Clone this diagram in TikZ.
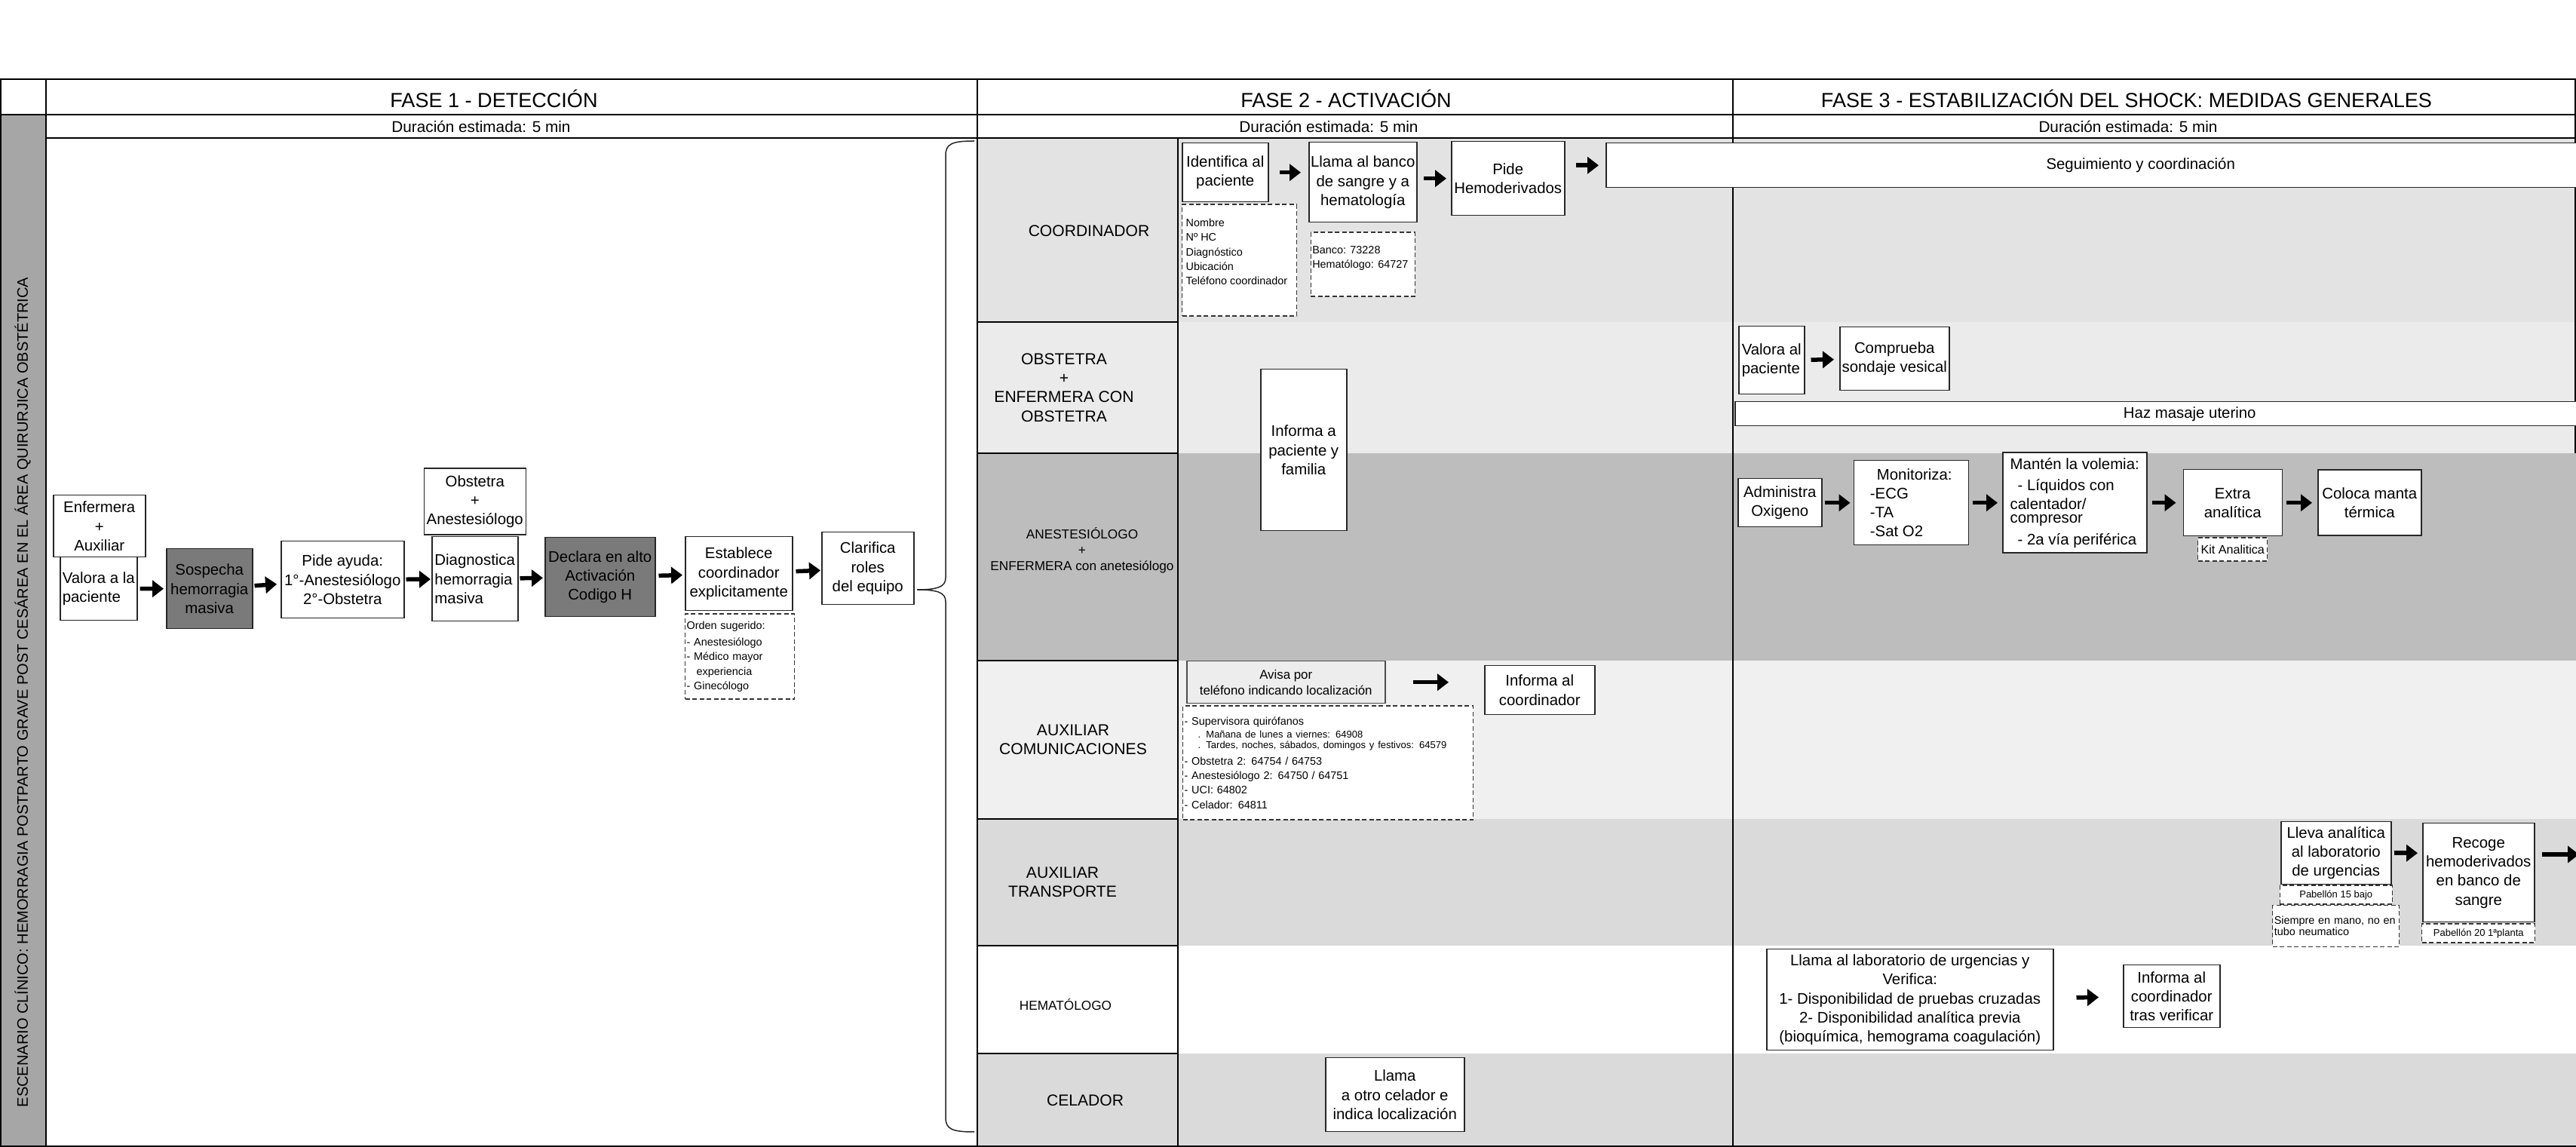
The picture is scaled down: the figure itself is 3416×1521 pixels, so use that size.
\documentclass[tikz,border=0pt]{standalone}
\usepackage{fontspec}
\setmainfont{Liberation Sans}
\usetikzlibrary{arrows.meta, positioning}
\definecolor{LaneCoord}{HTML}{E3E3E3}
\definecolor{LaneObst}{HTML}{EBEBEB}
\definecolor{LaneAnes}{HTML}{BDBDBD}
\definecolor{LaneCom}{HTML}{F0F0F0}
\definecolor{LaneTrans}{HTML}{DADADA}
\definecolor{SideGray}{HTML}{A6A6A6}
\definecolor{AlertGray}{HTML}{7A7A7A}
\definecolor{CallGray}{HTML}{EDEDED}
\newcommand{\fsBox}{\fontsize{5.8}{7.2}\selectfont}
\newcommand{\fsNote}{\fontsize{4.1}{5.5}\selectfont}
\newcommand{\fsTiny}{\fontsize{3.7}{4.6}\selectfont}
\newcommand{\fsPhase}{\fontsize{7.7}{9}\selectfont}
\newcommand{\fsDur}{\fontsize{5.9}{7}\selectfont}
\newcommand{\fsLane}{\fontsize{6}{7.2}\selectfont}
\newcommand{\fsLaneSm}{\fontsize{4.9}{6}\selectfont}
\tikzset{
  box/.style={draw=black!85, line width=0.15mm, fill=white, align=center,
    inner xsep=0.2mm, inner ysep=0.4mm, font=\fsBox},
  alertbox/.style={box, fill=AlertGray},
  callbox/.style={box, fill=CallGray, draw=black!70, font=\fontsize{4.8}{6}\selectfont},
  notebox/.style={draw=black!80, line width=0.12mm, dash pattern=on 0.6mm off 0.35mm,
    fill=white, align=left, inner xsep=0.2mm, inner ysep=0.4mm, font=\fsNote},
  lanelbl/.style={align=center, font=\fsLane},
  flow/.style={-{Triangle[length=1.5mm, width=2.2mm]}, line width=0.55mm,
    shorten <=0.4mm, shorten >=0.4mm},
  gridline/.style={line width=0.25mm, draw=black},
  gridthin/.style={line width=0.12mm, draw=black},
  bracestyle/.style={line width=0.15mm, draw=black!85},
}
\begin{document}
\begin{tikzpicture}[x=0.1mm, y=-0.1mm]
  \useasboundingbox (0,0) rectangle (3416,1521);
  \fill[white] (0,0) rectangle (3416,1521);
  % lanes
  \fill[LaneCoord] (1296,183) rectangle (3416,427);
  \fill[LaneObst] (1296,427) rectangle (3416,601);
  \fill[LaneAnes] (1296,601) rectangle (3416,876);
  \fill[LaneCom] (1296,876) rectangle (3416,1086);
  \fill[LaneTrans] (1296,1086) rectangle (3416,1254);
  \fill[white] (1296,1254) rectangle (3416,1397);
  \fill[LaneTrans] (1296,1397) rectangle (3416,1521);
  \fill[SideGray] (0,152) rectangle (61,1521);
  % grid
  \draw[gridline] (0,105) -- (3416,105);
  \draw[gridline] (0,152) -- (3416,152);
  \draw[gridline] (61,183) -- (3416,183);
  \draw[gridline] (1,105) -- (1,1521);
  \draw[gridline] (61,105) -- (61,1521);
  \draw[gridline] (1296,105) -- (1296,1521);
  \draw[gridthin] (2298,105) -- (2298,1521);
  \draw[gridthin] (3415,105) -- (3415,601);
  \draw[gridthin] (0,1520) -- (3416,1520);
  \draw[gridline] (1562,183) -- (1562,1521);
  \draw[gridline] (1296,427) -- (1562,427);
  \draw[gridline] (1296,601) -- (1562,601);
  \draw[gridline] (1296,876) -- (1562,876);
  \draw[gridline] (1296,1086) -- (1562,1086);
  \draw[gridline] (1296,1254) -- (1562,1254);
  \draw[gridline] (1296,1397) -- (1562,1397);

  % headers
  \node[font=\fsPhase] (fase1) at (655,131) {FASE 1 - DETECCIÓN};
  \node[font=\fsPhase] (fase2) at (1785,131) {FASE 2 - ACTIVACIÓN};
  \node[font=\fsPhase] (fase3) at (2820,131) {FASE 3 - ESTABILIZACIÓN DEL SHOCK: MEDIDAS GENERALES};
  \node[font=\fsDur] (dur1) at (638,168) {Duración estimada: 5 min};
  \node[font=\fsDur] (dur2) at (1762,168) {Duración estimada: 5 min};
  \node[font=\fsDur] (dur3) at (2822,168) {Duración estimada: 5 min};
  \node[rotate=90, font=\fontsize{5.7}{6.8}\selectfont] (escenario) at (30,918)
    {ESCENARIO CLÍNICO: HEMORRAGIA POSTPARTO GRAVE POST CESÁREA EN EL ÁREA QUIRURJICA OBSTÉTRICA};

  % lane labels
  \node[lanelbl] (lblcoord) at (1444,306) {COORDINADOR};
  \node[lanelbl] (lblobst) at (1411,514) {OBSTETRA\\+\\ENFERMERA CON\\OBSTETRA};
  \node[lanelbl, font=\fsLaneSm] (lblanes) at (1435,730) {ANESTESIÓLOGO\\+\\ENFERMERA con anetesiólogo};
  \node[lanelbl] (lblcom) at (1423,981) {AUXILIAR\\COMUNICACIONES};
  \node[lanelbl] (lbltrans) at (1409,1170) {AUXILIAR\\TRANSPORTE};
  \node[lanelbl, font=\fsLaneSm] (lblhemato) at (1413,1332) {HEMATÓLOGO};
  \node[lanelbl] (lblcelador) at (1439,1459) {CELADOR};

  % fase 1
  \node[box, anchor=north west, minimum width=12.2mm, minimum height=8.2mm] (enfaux) at (70,656) {Enfermera\\+\\Auxiliar};
  \node[box, anchor=north west, minimum width=10.2mm, minimum height=8.4mm, align=left] (valoraA) at (79,738) {Valora a la\\paciente};
  \node[alertbox, anchor=north west, minimum width=11.4mm, minimum height=10.6mm] (sospecha) at (220,727) {Sospecha\\hemorragia\\masiva};
  \node[box, anchor=north west, minimum width=16.3mm, minimum height=10.2mm] (pide) at (372,717) {Pide ayuda:\\1°-Anestesiólogo\\2°-Obstetra};
  \node[box, anchor=north west, minimum width=11.4mm, minimum height=11.2mm, align=left] (diagnostica) at (572,711) {Diagnostica\\hemorragia\\masiva};
  \node[box, above=0.1mm of diagnostica, minimum width=13.5mm, minimum height=8.8mm] (obsanes) {Obstetra\\+\\Anestesiólogo};
  \node[alertbox, anchor=north west, minimum width=14.6mm, minimum height=10.5mm] (declara) at (722,712) {Declara en alto\\Activación\\Codigo H};
  \node[box, anchor=north west, minimum width=14.2mm, minimum height=9.8mm] (establece) at (908,711) {Establece\\coordinador\\explicitamente};
  \node[notebox, below=0.3mm of establece.south west, anchor=north west, text width=14.1mm, minimum height=11.3mm] (orden)
    {Orden sugerido:\\[0.3mm]- Anestesiólogo\\- Médico mayor\\\hspace*{1.3mm}experiencia\\- Ginecólogo};
  \node[box, anchor=north west, minimum width=12.2mm, minimum height=9.6mm] (clarifica) at (1089,705) {Clarifica\\roles\\del equipo};

  % fase 2
  \node[box, anchor=north west, minimum width=11.4mm, minimum height=7.8mm] (identifica) at (1567,189) {Identifica al\\paciente};
  \node[notebox, below=0.2mm of identifica.south west, anchor=north west] (nombre)
    {\parbox[t][14.0mm][t]{14.8mm}{\vspace*{1.5mm}\hspace*{0.3mm}Nombre\\\hspace*{0.3mm}Nº HC\\\hspace*{0.3mm}Diagnóstico\\\hspace*{0.3mm}Ubicación\\\hspace*{0.3mm}Teléfono coordinador}};
  \node[box, anchor=north west, minimum width=14.3mm, minimum height=10.6mm] (llamabanco) at (1735,188) {Llama al banco\\de sangre y a\\hematología};
  \node[notebox, below=1.2mm of llamabanco] (banco)
    {\parbox[t][7.7mm][t]{13.4mm}{\vspace*{1.4mm}Banco: 73228\\Hematólogo: 64727}};
  \node[box, anchor=north west, minimum width=15.0mm, minimum height=9.8mm] (pidehemo) at (1924,187) {Pide\\Hemoderivados};
  \node[box, anchor=north west, minimum width=141.8mm, minimum height=5.9mm] (seguimiento) at (2129,189) {Seguimiento y coordinación};
  \node[box, anchor=north west, minimum width=11.4mm, minimum height=21.4mm] (informafam) at (1671,489) {Informa a\\paciente y\\familia};
  \node[callbox, anchor=north west, minimum width=26.3mm, minimum height=5.6mm] (avisa) at (1573,876) {Avisa por\\teléfono indicando localización};
  \node[box, anchor=north west, minimum width=14.6mm, minimum height=6.5mm] (informacoord) at (1968,882) {Informa al\\coordinador};
  \node[notebox, below=0.2mm of avisa.south west, anchor=north west, xshift=-0.5mm, text width=38.1mm, minimum height=15.1mm] (supervisora)
    {- Supervisora quirófanos\\[-0.2mm]
     {\fsTiny\hspace*{1.8mm}. Mañana de lunes a viernes: 64908}\\[-0.5mm]
     {\fsTiny\hspace*{1.8mm}. Tardes, noches, sábados, domingos y festivos: 64579}\\[0.2mm]
     - Obstetra 2: 64754 / 64753\\
     - Anestesiólogo 2: 64750 / 64751\\
     - UCI: 64802\\
     - Celador: 64811};
  \node[box, anchor=north west, minimum width=18.4mm, minimum height=9.8mm] (llamacel) at (1757,1402) {Llama\\a otro celador e\\indica localización};

  % fase 3
  \node[box, anchor=north west, minimum width=8.7mm, minimum height=9.0mm, align=left] (valoraB) at (2305,432) {Valora al\\paciente};
  \node[box, anchor=north west, minimum width=14.5mm, minimum height=8.4mm] (comprueba) at (2439,433) {Comprueba\\sondaje vesical};
  \node[box, anchor=north west, minimum width=120.6mm, minimum height=3.2mm, inner ysep=0.2mm] (masaje) at (2300,532) {Haz masaje uterino};
  \node[box, anchor=north west, minimum width=11.1mm, minimum height=6.4mm] (oxigeno) at (2304,634) {Administra\\Oxigeno};
  \node[box, right=4.1mm of oxigeno, minimum width=15.2mm, minimum height=11.2mm, align=left] (monitoriza)
    {\hspace*{0.9mm}Monitoriza:\\-ECG\\-TA\\-Sat O2};
  \node[box, right=4.4mm of monitoriza, minimum width=19.1mm, minimum height=13.3mm, align=left] (volemia)
    {Mantén la volemia:\\[0.3mm]\hspace*{1mm}- Líquidos con\\calentador/\\[-0.7mm]compresor\\[0.3mm]\hspace*{1mm}- 2a vía periférica};
  \node[box, right=4.7mm of volemia, minimum width=13.1mm, minimum height=8.8mm] (extra) {Extra\\analítica};
  \node[notebox, below=0.1mm of extra, minimum width=9.2mm, minimum height=3.1mm, align=center, inner xsep=0.1mm,
    font=\fontsize{4.6}{5.4}\selectfont] (kit) {Kit Analitica};
  \node[box, right=4.6mm of extra, minimum width=13.7mm, minimum height=8.7mm] (manta) {Coloca manta\\térmica};
  \node[box, anchor=north west, minimum width=14.6mm, minimum height=8.3mm] (lleva) at (3024,1089) {Lleva analítica\\al laboratorio\\de urgencias};
  \node[notebox, below=0mm of lleva, minimum width=14.9mm, minimum height=2.5mm, align=center, font=\fsTiny] (pab15) {Pabellón 15 bajo};
  \node[notebox, below=0mm of pab15, text width=16.4mm, minimum height=5.5mm] (siempre) {Siempre en mano, no en\\[-0.4mm]tubo neumatico};
  \node[box, anchor=north west, minimum width=14.8mm, minimum height=13.1mm] (recoge) at (3212,1091) {Recoge\\hemoderivados\\en banco de\\sangre};
  \node[notebox, below=0.1mm of recoge, minimum width=15.0mm, minimum height=2.5mm, align=center, font=\fsTiny] (pab20) {Pabellón 20 1ªplanta};
  \coordinate (recout) at (3420,1133);
  \node[box, anchor=north west, minimum width=38.0mm, minimum height=13.4mm] (llamalab) at (2342,1258)
    {Llama al laboratorio de urgencias y\\Verifica:\\1- Disponibilidad de pruebas cruzadas\\2- Disponibilidad analítica previa\\(bioquímica, hemograma coagulación)};
  \node[box, anchor=north west, minimum width=12.8mm, minimum height=8.3mm] (informatras) at (2815,1279) {Informa al\\coordinador\\tras verificar};

  % flechas
  \draw[flow, shorten <=0.3mm, shorten >=0.3mm] (valoraA) -- (sospecha);
  \draw[flow, shorten <=0.2mm, shorten >=0.5mm] (sospecha) -- (pide);
  \draw[flow, shorten <=0.2mm, shorten >=0.1mm] (pide) -- (diagnostica);
  \draw[flow, shorten <=0.2mm, shorten >=0.2mm] (diagnostica) -- (declara);
  \draw[flow, shorten <=0.4mm, shorten >=0.3mm] (declara) -- (establece);
  \draw[flow, shorten <=0.4mm, shorten >=0.1mm] (establece) -- (clarifica);
  \draw[flow, shorten <=1.4mm, shorten >=1mm] (identifica) -- (identifica -| llamabanco.west);
  \draw[flow, shorten <=0.8mm, shorten >=0.6mm] (pidehemo -| llamabanco.east) -- (pidehemo);
  \draw[flow, shorten <=1.4mm, shorten >=0.9mm] (seguimiento -| pidehemo.east) -- (seguimiento);
  \draw[flow, shorten <=3.6mm, shorten >=4.7mm] (avisa) -- (avisa -| informacoord.west);
  \draw[flow, shorten <=0.8mm, shorten >=0.7mm] (valoraB) -- (comprueba);
  \draw[flow, shorten <=0.3mm, shorten >=0.4mm] (oxigeno) -- (monitoriza);
  \draw[flow, shorten <=0.5mm, shorten >=0.6mm] (monitoriza) -- (volemia);
  \draw[flow, shorten <=0.6mm, shorten >=0.9mm] (volemia) -- (extra);
  \draw[flow, shorten <=0.5mm, shorten >=0.7mm] (extra) -- (manta);
  \draw[flow, shorten <=0.3mm, shorten >=0.6mm] (lleva) -- (lleva -| recoge.west);
  \draw[flow, shorten <=0.9mm, shorten >=0mm] (recout -| recoge.east) -- (recout);
  \draw[flow, shorten <=3mm, shorten >=3.2mm] (llamalab) -- (informatras);

  % llave
  \draw[bracestyle] (1292,187) .. controls (1262,187) and (1254,191) .. (1254,206)
    -- (1254,766) .. controls (1254,778) and (1244,782) .. (1216,782)
    .. controls (1244,782) and (1254,786) .. (1254,798)
    -- (1254,1482) .. controls (1254,1497) and (1262,1501) .. (1292,1501);
\end{tikzpicture}
\end{document}
